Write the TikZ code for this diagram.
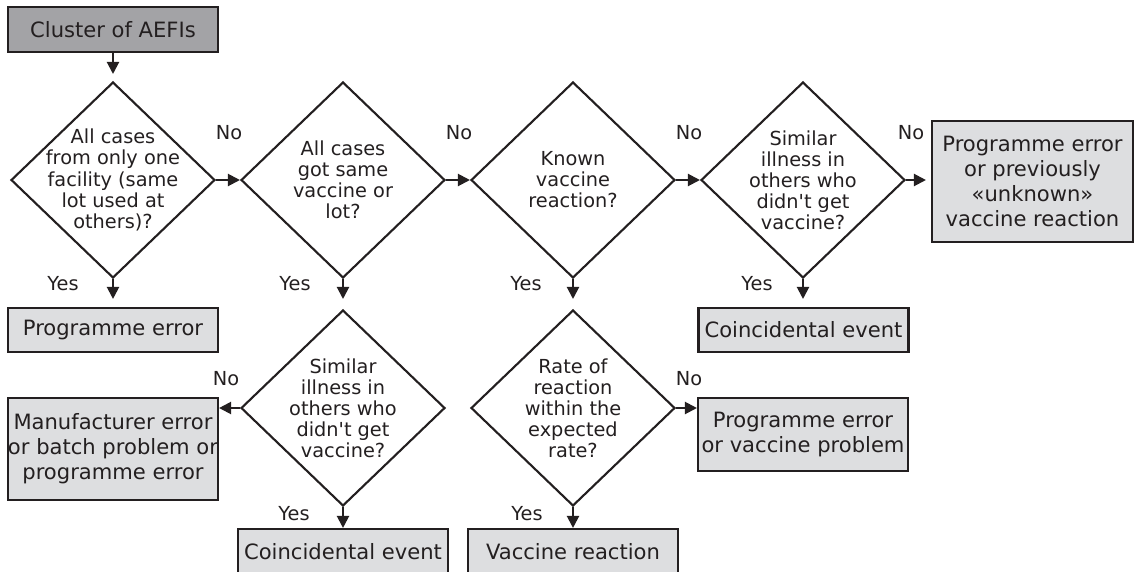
\documentclass[tikz,border=0pt]{standalone}
\usepackage{fontspec}
\setmainfont{DejaVu Sans}
\usetikzlibrary{calc,shapes.geometric,arrows.meta}

\definecolor{ink}{RGB}{35,31,32}
\definecolor{startgray}{RGB}{163,163,166}
\definecolor{outgray}{RGB}{221,222,224}

\tikzset{
	question/.style={diamond, draw=ink, line width=1.2pt, text=ink, inner sep=-0.6cm,
		minimum width=4.08cm, minimum height=3.92cm, align=center,
		font=\fontsize{11}{12}\selectfont},
	outcome/.style={rectangle, draw=ink, line width=1.2pt, fill=outgray, text=ink,
		minimum width=4.2cm, inner sep=0pt, align=center,
		font=\fontsize{12}{14.2}\selectfont},
	answer/.style={text=ink, inner sep=0pt, font=\fontsize{11}{13}\selectfont},
	flow/.style={draw=ink, line width=1.2pt, -{Triangle[length=0.24cm,width=0.24cm]}},
}

\begin{document}
\begin{tikzpicture}[x=0.02cm, y=-0.02cm]
		%%%%% START %%%%%
		\useasboundingbox (0,0) rectangle (1134,572);
		
		\node[outcome, fill=startgray, minimum height=0.9cm] (cluster) at (113,29.5) {Cluster of AEFIs};
		
		% first row of questions
		\node[question] (facility) at (113,180) {All cases\\from only one\\facility (same\\lot used at\\others)?};
		\node[question] (samelot) at (343,180) {All cases\\got same\\vaccine or\\lot?};
		\node[question] (known) at (573,180) {Known\\vaccine\\reaction?};
		\node[question] (others) at (803,180) {Similar\\illness in\\others who\\didn\textquotesingle t get\\vaccine?};
		\node[outcome, minimum width=4.02cm, minimum height=2.42cm] (unknown) at (1032.5,181.5) {Programme error\\or previously\\«unknown»\\vaccine reaction};
		
		\node[outcome, minimum height=0.88cm] (progerr) at (113,330) {Programme error};
		\node[outcome, minimum height=0.88cm] (coinca) at (803.5,330) {Coincidental event};
		
		% second row of questions
		\node[question] (othersb) at (343,408) {Similar\\illness in\\others who\\didn\textquotesingle t get\\vaccine?};
		\node[question] (rate) at (573,408) {Rate of\\reaction\\within the\\expected\\rate?};
		
		\node[outcome, minimum height=2.04cm] (manuf) at (113,449) {Manufacturer error\\or batch problem or\\programme error};
		\node[outcome, minimum height=1.46cm] (progvac) at (803,434.5) {Programme error\\or vaccine problem};
		\node[outcome, minimum height=0.9cm] (coincb) at (343,551.5) {Coincidental event};
		\node[outcome, minimum height=0.9cm] (vacreact) at (573,551.5) {Vaccine reaction};
		
		% arrows
		\draw[flow, shorten >=0.14cm] (cluster.south) -- (facility.north);
		\draw[flow] (facility.east) -- (samelot.west);
		\draw[flow] (samelot.east) -- (known.west);
		\draw[flow] (known.east) -- (others.west);
		\draw[flow, shorten >=0.1cm] (others.east) -- (others.east -| unknown.west);
		
		\draw[flow, shorten >=0.16cm] (facility.south) -- (progerr.north);
		\draw[flow, shorten >=0.2cm] (samelot.south) -- (othersb.north);
		\draw[flow, shorten >=0.2cm] (known.south) -- (rate.north);
		\draw[flow, shorten >=0.16cm] (others.south) -- (others.south |- coinca.north);
		
		\draw[flow] (othersb.west) -- (othersb.west -| manuf.east);
		\draw[flow] (rate.east) -- (rate.east -| progvac.west);
		\draw[flow] (othersb.south) -- (coincb.north);
		\draw[flow] (rate.south) -- (vacreact.north);
		
		% answers
		\node[answer] (no1) at ($(facility.east)+(13,-47)$) {No};
		\node[answer] (no2) at ($(samelot.east)+(13,-47)$) {No};
		\node[answer] (no3) at ($(known.east)+(13,-47)$) {No};
		\node[answer] (no4) at ($(others.east)+(5,-47)$) {No};
		\node[answer] (no5) at ($(othersb.west)+(-14,-29)$) {No};
		\node[answer] (no6) at ($(rate.east)+(13,-29)$) {No};
		
		\node[answer] (yes1) at ($(facility.south)+(-50,5)$) {Yes};
		\node[answer] (yes2) at ($(samelot.south)+(-48,5)$) {Yes};
		\node[answer] (yes3) at ($(known.south)+(-47,5)$) {Yes};
		\node[answer] (yes4) at ($(others.south)+(-46,5)$) {Yes};
		\node[answer] (yes5) at ($(othersb.south)+(-49,7)$) {Yes};
		\node[answer] (yes6) at ($(rate.south)+(-46,7)$) {Yes};
		
		%%%%% END %%%%%
\end{tikzpicture}
\end{document}
